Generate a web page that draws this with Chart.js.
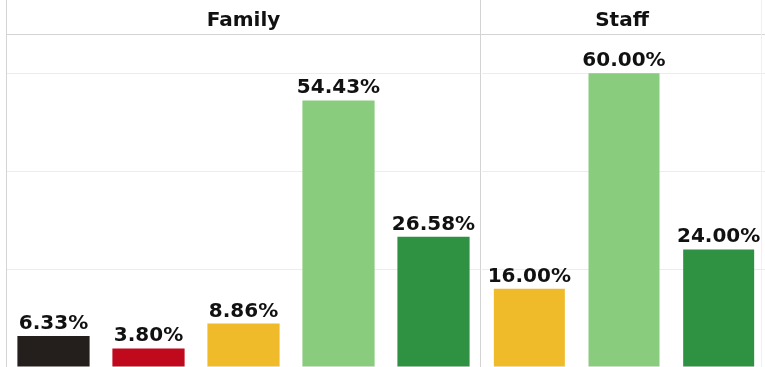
<!DOCTYPE html>
<html>
<head>
<meta charset="utf-8">
<script src="https://cdn.jsdelivr.net/npm/chart.js@4/dist/chart.umd.min.js"></script>
<style>
    html, body { margin: 0; padding: 0; background: #fff; }
    #wrap { position: relative; width: 765px; height: 367px; overflow: hidden; }
    .panel { position: absolute; top: 0; height: 367px; }
    #familyBox { left: 0; width: 482px; }
    #staffBox { left: 481px; width: 286px; }
</style>
</head>
<body>
<div id="wrap">
    <div class="panel" id="familyBox"><canvas id="familyChart"></canvas></div>
    <div class="panel" id="staffBox"><canvas id="staffChart"></canvas></div>
</div>
<script>
// facet titles
const panelTitles = ['Family', 'Staff']

// categories per facet
const familyCategories = ['Strongly disagree', 'Disagree', 'Neutral', 'Agree', 'Strongly agree']
const staffCategories = ['Neutral', 'Agree', 'Strongly agree']

// percentages
const familyValues = [6.33, 3.80, 8.86, 54.43, 26.58]
const staffValues = [16.00, 60.00, 24.00]

// y axis
const yMax = 68
const yTicks = [0, 20, 40, 60]

const colorFor = {
    'Strongly disagree': '#241f1c',
    'Disagree': '#c0091d',
    'Neutral': '#f0bb2a',
    'Agree': '#8acc7d',
    'Strongly agree': '#2f9243'
}

// draws the facet header text and the panel frame lines
const facetFrame = {
    id: 'facetFrame',
    afterDraw(chart, args, opts) {
        const ctx = chart.ctx
        const area = chart.chartArea
        ctx.save()
        ctx.lineWidth = 1
        ctx.strokeStyle = '#d4d4d4'
        ctx.beginPath()
        ctx.moveTo(area.left, area.top + 0.5)
        ctx.lineTo(chart.width, area.top + 0.5)
        if (opts.leftLine) {
            ctx.moveTo(area.left + 0.5, 0)
            ctx.lineTo(area.left + 0.5, chart.height)
        }
        if (opts.rightLine) {
            ctx.moveTo(area.right - 0.5, 0)
            ctx.lineTo(area.right - 0.5, chart.height)
        }
        ctx.stroke()
        if (opts.edgeX) {
            // faint outer border at the right edge of the picture
            ctx.strokeStyle = '#f0f0f0'
            ctx.beginPath()
            ctx.moveTo(opts.edgeX + 0.5, 0)
            ctx.lineTo(opts.edgeX + 0.5, chart.height)
            ctx.stroke()
        }
        ctx.fillStyle = '#111'
        ctx.font = 'bold 20px "DejaVu Sans"'
        ctx.textAlign = 'center'
        ctx.textBaseline = 'alphabetic'
        ctx.fillText(opts.title, opts.titleX || (area.left + area.right) / 2, 26)
        ctx.restore()
    }
}

// value labels above each bar
const valueLabels = {
    id: 'valueLabels',
    afterDatasetsDraw(chart) {
        const ctx = chart.ctx
        ctx.save()
        ctx.fillStyle = '#111'
        ctx.font = 'bold 20px "DejaVu Sans"'
        ctx.textAlign = 'center'
        ctx.textBaseline = 'alphabetic'
        const meta = chart.getDatasetMeta(0)
        const values = chart.data.datasets[0].data
        meta.data.forEach((bar, i) => {
            ctx.fillText(values[i].toFixed(2) + '%', bar.x, bar.y - 7)
        })
        ctx.restore()
    }
}

const makeChart = (canvasId, categories, values, title, padding, frame, barPct) => {
    const ctx = document.getElementById(canvasId).getContext('2d')
    return new Chart(ctx, {
        type: 'bar',
        data: {
            labels: categories,
            datasets: [{
                data: values,
                backgroundColor: categories.map(c => colorFor[c]),
                borderWidth: 0,
                categoryPercentage: 1,
                barPercentage: barPct
            }]
        },
        options: {
            responsive: true,
            maintainAspectRatio: false,
            animation: false,
            layout: { padding: padding },
            scales: {
                x: { display: false },
                y: {
                    min: 0,
                    max: yMax,
                    afterBuildTicks: (scale) => {
                        scale.ticks = yTicks.map(v => ({ value: v }))
                    },
                    ticks: { display: false },
                    border: { display: false },
                    grid: { color: '#ececec', drawTicks: false }
                }
            },
            plugins: {
                legend: { display: false },
                tooltip: { enabled: false },
                facetFrame: Object.assign({ title: title }, frame)
            }
        },
        plugins: [facetFrame, valueLabels]
    })
}

makeChart('familyChart', familyCategories, familyValues, panelTitles[0],
    { left: 6, right: 1, top: 34, bottom: 0 }, { leftLine: true, rightLine: true }, 0.76)
makeChart('staffChart', staffCategories, staffValues, panelTitles[1],
    { left: 1, right: 1, top: 34, bottom: 0 }, { leftLine: false, rightLine: false, edgeX: 280, titleX: 141 }, 0.75)
</script>
</body>
</html>
